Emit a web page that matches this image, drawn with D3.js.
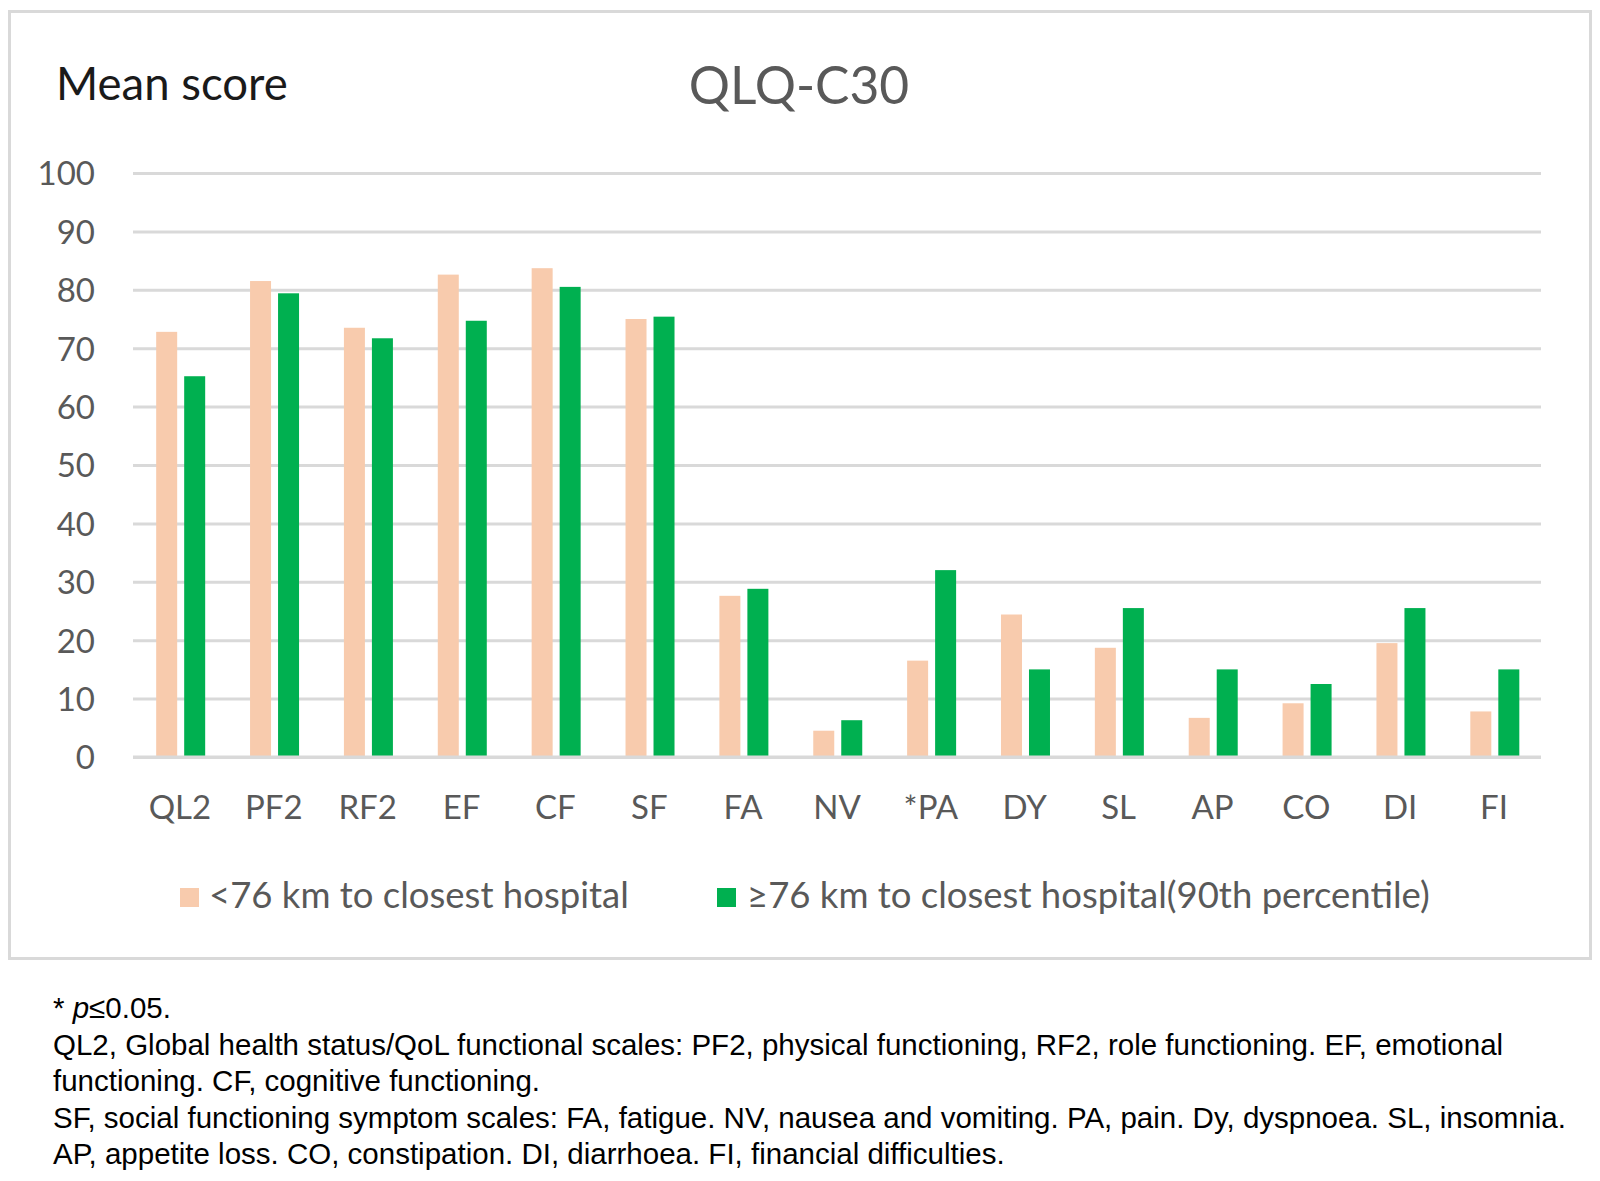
<!DOCTYPE html>
<html>
<head>
<meta charset="utf-8">
<script src="https://cdn.jsdelivr.net/npm/d3@7"></script>
<style>
  html, body { margin: 0; padding: 0; background: #fff; }
  svg { display: block; }
</style>
</head>
<body>
<svg id="chart" width="1600" height="1181"></svg>
<script>
const categories = ["QL2", "PF2", "RF2", "EF", "CF", "SF", "FA", "NV", "*PA", "DY", "SL", "AP", "CO", "DI", "FI"];
const seriesNames = ["<76 km to closest hospital", "\u226576 km to closest hospital(90th percentile)"];
const nearValues = [72.8, 81.5, 73.5, 82.6, 83.7, 75.0, 27.6, 4.5, 16.5, 24.4, 18.7, 6.7, 9.2, 19.5, 7.8];
const farValues  = [65.2, 79.4, 71.7, 74.7, 80.5, 75.4, 28.8, 6.3, 32.0, 15.0, 25.5, 15.0, 12.5, 25.5, 15.0];
const yTicks = [0, 10, 20, 30, 40, 50, 60, 70, 80, 90, 100];
const titleText = "QLQ-C30";
const yAxisTitle = "Mean score";
const footnotes = [
  [{t: "* "}, {t: "p", i: true}, {t: "\u22640.05."}],
  [{t: "QL2, Global health status/QoL functional scales: PF2, physical functioning, RF2, role functioning. EF, emotional"}],
  [{t: "functioning. CF, cognitive functioning."}],
  [{t: "SF, social functioning symptom scales: FA, fatigue. NV, nausea and vomiting. PA, pain. Dy, dyspnoea. SL, insomnia."}],
  [{t: "AP, appetite loss. CO, constipation. DI, diarrhoea. FI, financial difficulties."}]
];

const colors = ["#F8CBAD", "#00B050"];
const svg = d3.select("#chart");
const chartFont = "Lato, 'Open Sans', sans-serif";

// outer border
svg.append("rect")
  .attr("x", 9.5).attr("y", 11.5).attr("width", 1581).attr("height", 947)
  .attr("fill", "#fff").attr("stroke", "#d9d9d9").attr("stroke-width", 3);

const plotLeft = 133, plotRight = 1541, plotTop = 173, plotBottom = 757;

const x = d3.scaleBand().domain(categories).range([plotLeft, plotRight]).padding(0);
const y = d3.scaleLinear().domain([0, 100]).range([plotBottom, plotTop]);
const pairW = 49;
const xInner = d3.scaleBand().domain([0, 1])
  .range([x.bandwidth() / 2 - pairW / 2 + 0.75, x.bandwidth() / 2 + pairW / 2 + 0.75])
  .paddingInner(0.25);

// y axis with gridlines
const yAxis = svg.append("g")
  .attr("transform", `translate(${plotLeft},0)`)
  .call(d3.axisLeft(y).tickValues(yTicks).tickSize(-(plotRight - plotLeft)).tickPadding(38));
yAxis.select(".domain").remove();
yAxis.selectAll(".tick line").attr("stroke", "#d9d9d9").attr("stroke-width", 3);
yAxis.selectAll(".tick text")
  .attr("fill", "#595959").attr("font-family", chartFont).attr("font-size", 33)
  .attr("dy", "0.36em");

// bars
const data = categories.map((c, i) => ({c, vals: [nearValues[i], farValues[i]]}));
const groups = svg.append("g").selectAll("g").data(data).join("g")
  .attr("transform", d => `translate(${x(d.c)},0)`);
groups.selectAll("rect").data(d => d.vals.map((v, k) => ({v, k}))).join("rect")
  .attr("x", d => xInner(d.k))
  .attr("width", xInner.bandwidth())
  .attr("y", d => y(d.v))
  .attr("height", d => y(0) - y(d.v))
  .attr("fill", d => colors[d.k]);

// baseline axis line over bars
svg.append("line")
  .attr("x1", plotLeft).attr("x2", plotRight)
  .attr("y1", y(0)).attr("y2", y(0))
  .attr("stroke", "#d9d9d9").attr("stroke-width", 3);

// x axis labels
const xAxis = svg.append("g")
  .attr("transform", `translate(0,${plotBottom})`)
  .call(d3.axisBottom(x).tickSize(0).tickPadding(0));
xAxis.select(".domain").remove();
xAxis.selectAll(".tick text")
  .attr("fill", "#595959").attr("font-family", chartFont).attr("font-size", 33)
  .attr("y", 62).attr("dy", 0);

// titles
svg.append("text").text(yAxisTitle)
  .attr("x", 56).attr("y", 100)
  .attr("font-family", chartFont).attr("font-size", 45.5).attr("fill", "#1a1a1a");
svg.append("text").text(titleText)
  .attr("x", 799).attr("y", 104).attr("text-anchor", "middle")
  .attr("font-family", chartFont).attr("font-size", 51.5).attr("fill", "#595959");

// legend
const legendItems = [
  {name: seriesNames[0], color: colors[0], sx: 180, tx: 209},
  {name: seriesNames[1], color: colors[1], sx: 717, tx: 747}
];
const lg = svg.append("g").selectAll("g").data(legendItems).join("g");
lg.append("rect").attr("x", d => d.sx).attr("y", 888).attr("width", 19).attr("height", 19)
  .attr("fill", d => d.color);
lg.append("text").text(d => d.name)
  .attr("x", d => d.tx).attr("y", 908)
  .attr("font-family", chartFont).attr("font-size", 36.5).attr("fill", "#595959");

// footnotes
const fn = svg.append("g");
footnotes.forEach((parts, i) => {
  const t = fn.append("text")
    .attr("x", 53).attr("y", 1018 + i * 36.5)
    .attr("font-family", "'Liberation Sans', Arial, sans-serif").attr("font-size", 29.5)
    .attr("fill", "#000");
  parts.forEach(p => {
    t.append("tspan").text(p.t).attr("font-style", p.i ? "italic" : "normal");
  });
});
</script>
</body>
</html>
